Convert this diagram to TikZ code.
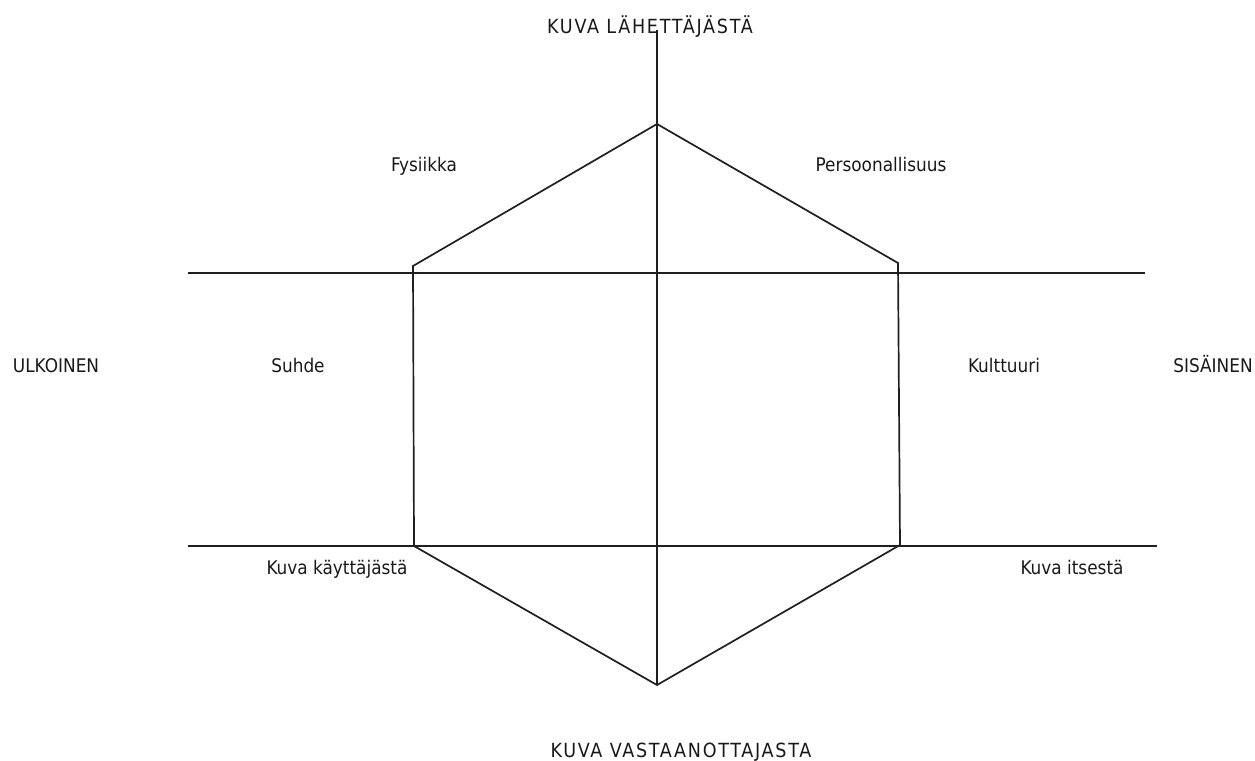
\documentclass[tikz,border=0pt]{standalone}
\usepackage{fontspec}
\setmainfont{DejaVu Sans Condensed}
\begin{document}
\begin{tikzpicture}[x=1pt,y=-1pt,
  axis/.style={line width=1.7pt, draw=black!88},
  lbl/.style={font=\fontsize{18.8}{21}\selectfont, text=black!90, inner sep=0pt, anchor=base},
  title/.style={lbl, font=\fontsize{19.5}{21}\selectfont\addfontfeature{LetterSpace=9}}]
\useasboundingbox (0,0) rectangle (1255,760);

% axes end points
\coordinate (vtop) at (657,30);
\coordinate (hul) at (188,273);
\coordinate (hur) at (1145,273);
\coordinate (hll) at (188,546);
\coordinate (hlr) at (1157,546);

% hexagon corners
\coordinate (ht) at (657,124);
\coordinate (hr1) at (898,263);
\coordinate (hr2) at (900,545);
\coordinate (hb) at (657,685);
\coordinate (hl2) at (414,546);
\coordinate (hl1) at (413,266);

% axes
\draw[axis] (vtop) -- (hb);
\draw[axis] (hul) -- (hur);
\draw[axis] (hll) -- (hlr);

% hexagon
\draw[axis, line join=miter] (ht) -- (hr1) -- (hr2) -- (hb) -- (hl2) -- (hl1) -- cycle;

% labels
\node[title] (top) at (650,34) {KUVA LÄHETTÄJÄSTÄ};
\node[title] (bot) at (681,757) {KUVA VASTAANOTTAJASTA};
\node[lbl] (ulk) at (56,372) {ULKOINEN};
\node[lbl] (sis) at (1213,372) {SISÄINEN};
\node[lbl] (fys) at (424,171) {Fysiikka};
\node[lbl] (per) at (881,171) {Persoonallisuus};
\node[lbl] (suh) at (298,372) {Suhde};
\node[lbl] (kul) at (1004,372) {Kulttuuri};
\node[lbl] (kk) at (337,574) {Kuva käyttäjästä};
\node[lbl] (ki) at (1072,574) {Kuva itsestä};
\end{tikzpicture}
\end{document}
